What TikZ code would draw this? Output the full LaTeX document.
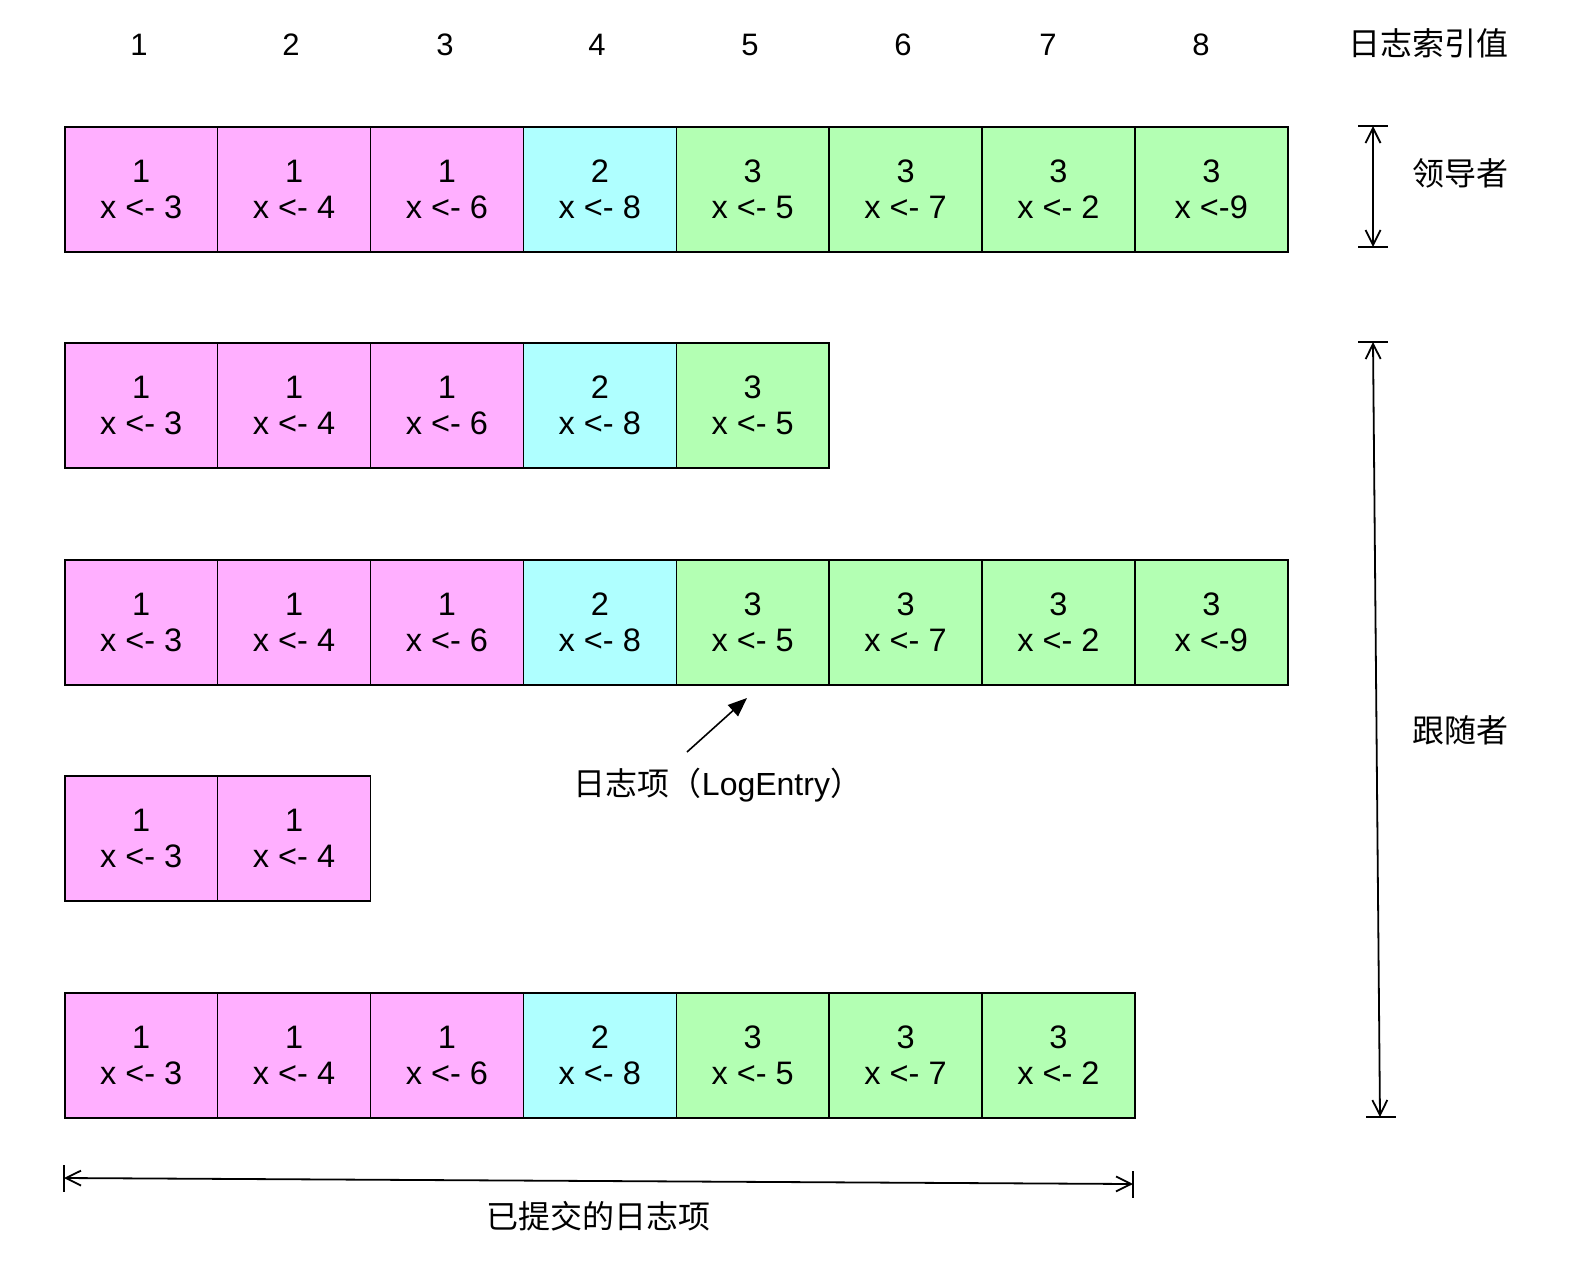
\documentclass[tikz,border=0pt]{standalone}
\usepackage{fontspec}
\setmainfont{Liberation Sans}
\newfontfamily\cjk{Noto Sans CJK SC}
\usetikzlibrary{arrows.meta}
\definecolor{pk}{HTML}{FFAFFF}
\definecolor{cy}{HTML}{AFFFFF}
\definecolor{gr}{HTML}{B3FFB3}
\tikzset{
  cell/.style={draw=black,line width=1.5pt,minimum width=152.875pt,minimum height=125pt,inner sep=0pt,anchor=north west,align=center,font=\fontsize{32.5}{37}\selectfont},
  idx/.style={font=\fontsize{31}{37}\selectfont,inner sep=0pt},
  lab/.style={font=\cjk\fontsize{32}{38}\selectfont,inner sep=0pt},
  dim/.style={line width=1.8pt,{Straight Barb[length=15pt,width=15pt]}-{Straight Barb[length=15pt,width=15pt]}},
  tick/.style={line width=1.8pt},
  pt/.style={line width=1.6pt,-{Triangle[length=19pt,width=15pt]}}
}
\begin{document}
\begin{tikzpicture}[x=1pt,y=-1pt]
\useasboundingbox (0,0) rectangle (1572,1262);
% index header
\foreach \n/\x in {1/139,2/291,3/445,4/597,5/750,6/903,7/1048,8/1201}
  \node[idx] (h\n) at (\x,45) {\n};
\node[lab] (hidx) at (1428,43) {日志索引值};
% rows
\def\cw{152.875}
\foreach \r/\y/\n in {1/126/8,2/342/5,3/559/8,4/775/2,5/992/7}{
  \foreach \i/\t/\v/\c in {1/1/x <- 3/pk,2/1/x <- 4/pk,3/1/x <- 6/pk,4/2/x <- 8/cy,5/3/x <- 5/gr,6/3/x <- 7/gr,7/3/x <- 2/gr,8/3/x <-9/gr}{
    \ifnum\i>\n\relax\else
      \node[cell,fill=\c] (c\r-\i) at ({64+(\i-1)*\cw},\y) {\t\\[-1pt]\v};
    \fi
  }
}
% leader bracket
\coordinate (lt) at (1373,126);
\coordinate (lb) at (1373,247);
\draw[tick] (1358,126) -- (1388,126);
\draw[tick] (1358,247) -- (1388,247);
\draw[dim] (lt) -- (lb);
\node[lab] (leader) at (1460,173) {领导者};
% follower bracket
\coordinate (ft) at (1373,342);
\coordinate (fb) at (1380,1117);
\draw[tick] (1358,342) -- (1388,342);
\draw[tick] (1366,1117) -- (1396,1117);
\draw[dim] (ft) -- (fb);
\node[lab] (follower) at (1460,730) {跟随者};
% log entry pointer
\node[inner sep=0pt] (le) at (718,785) {{\cjk\fontsize{32}{38}\selectfont 日志项（}{\fontsize{32}{38}\selectfont LogEntry}{\cjk\fontsize{32}{38}\selectfont ）}};
\coordinate (ls) at (687,752);
\coordinate (lend) at (747,698);
\draw[pt] (ls) -- (lend);
% committed
\coordinate (cl) at (64,1178);
\coordinate (cr) at (1133,1184);
\draw[tick] (64,1165) -- (64,1192);
\draw[tick] (1133,1171) -- (1133,1198);
\draw[dim] (cl) -- (cr);
\node[lab] (comm) at (598,1216) {已提交的日志项};
\end{tikzpicture}
\end{document}
